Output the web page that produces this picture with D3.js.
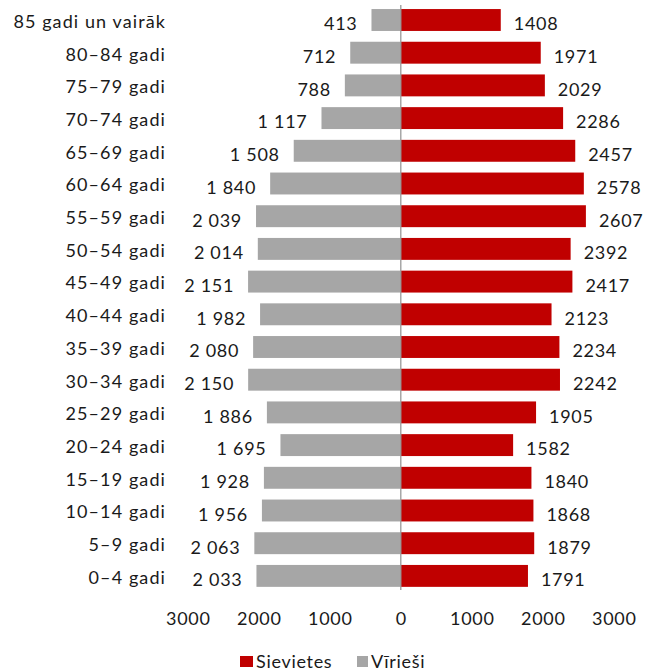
<!DOCTYPE html>
<html><head><meta charset="utf-8">
<script src="https://cdn.jsdelivr.net/npm/d3@7"></script>
<style>body{margin:0;background:#fff}svg{display:block}text{font-family:Lato,"Noto Sans",sans-serif;fill:#1a1a1a}</style>
</head><body>
<script>
const categories = ["85 gadi un vairāk","80–84 gadi","75–79 gadi","70–74 gadi","65–69 gadi","60–64 gadi","55–59 gadi","50–54 gadi","45–49 gadi","40–44 gadi","35–39 gadi","30–34 gadi","25–29 gadi","20–24 gadi","15–19 gadi","10–14 gadi","5–9 gadi","0–4 gadi"];
const men = [413,712,788,1117,1508,1840,2039,2014,2151,1982,2080,2150,1886,1695,1928,1956,2063,2033];
const women = [1408,1971,2029,2286,2457,2578,2607,2392,2417,2123,2234,2242,1905,1582,1840,1868,1879,1791];
const tickValues = [-3000,-2000,-1000,0,1000,2000,3000];
const seriesNames = ["Sievietes","Vīrieši"];
const colors = {women:"#C00000", men:"#A6A6A6"};

const W=645,H=672;
const FS=18, LS=0.7;
const svg=d3.select("body").append("svg").attr("width",W).attr("height",H);
const x=d3.scaleLinear().domain([-3000,3000]).range([400.8-3*71,400.8+3*71]);
const y=d3.scaleBand().domain(categories).range([3.65,592.25]).paddingInner(0.33).paddingOuter(0.165);
const bw=y.bandwidth();

svg.append("g").selectAll("rect").data(categories).join("rect")
  .attr("x",(d,i)=>x(-men[i])).attr("y",d=>y(d)).attr("width",(d,i)=>x(0)-x(-men[i])).attr("height",bw)
  .attr("fill",colors.men);
svg.append("g").selectAll("rect").data(categories).join("rect")
  .attr("x",x(0)).attr("y",d=>y(d)).attr("width",(d,i)=>x(women[i])-x(0)).attr("height",bw)
  .attr("fill",colors.women);

svg.append("line").attr("x1",x(0)).attr("x2",x(0)).attr("y1",5).attr("y2",590).attr("stroke","#999").attr("stroke-width",1.3);

const fmtMen=v=>{const s=String(v);return s.length>3?s.slice(0,s.length-3)+" "+s.slice(-3):s;};
svg.append("g").selectAll("text").data(categories).join("text")
  .attr("x",(d,i)=>x(-men[i])-14).attr("y",d=>y(d)+bw/2+4).attr("dy","0.35em")
  .attr("text-anchor","end").attr("font-size",FS).attr("letter-spacing",LS).text((d,i)=>fmtMen(men[i]));
svg.append("g").selectAll("text").data(categories).join("text")
  .attr("x",(d,i)=>x(women[i])+13).attr("y",d=>y(d)+bw/2+4).attr("dy","0.35em")
  .attr("text-anchor","start").attr("font-size",FS).attr("letter-spacing",LS).text((d,i)=>women[i]);

svg.append("g").selectAll("text").data(categories).join("text")
  .attr("x",166).attr("y",d=>y(d)+bw/2+1.5).attr("dy","0.35em")
  .attr("text-anchor","end").attr("font-size",FS).attr("letter-spacing",1.1).text(d=>d);

const ax=d3.axisBottom(x).tickValues(tickValues).tickSize(0).tickPadding(0).tickFormat(v=>Math.abs(v));
const ag=svg.append("g").attr("transform","translate(0,612)").call(ax);
ag.select(".domain").remove();
ag.selectAll("text").attr("font-size",FS).attr("letter-spacing",LS).attr("font-family","Lato,'Noto Sans',sans-serif").attr("fill","#1a1a1a");

const lg=svg.append("g");
const items=[{n:seriesNames[0],c:colors.women,x:240,w:13},{n:seriesNames[1],c:colors.men,x:357,w:11}];
items.forEach(it=>{
  lg.append("rect").attr("x",it.x).attr("y",656).attr("width",it.w).attr("height",11).attr("fill",it.c);
  lg.append("text").attr("x",it.x+(it.w+3)).attr("y",661.5).attr("dy","0.35em").attr("font-size",FS).attr("letter-spacing",LS).text(it.n);
});
</script>
</body></html>
